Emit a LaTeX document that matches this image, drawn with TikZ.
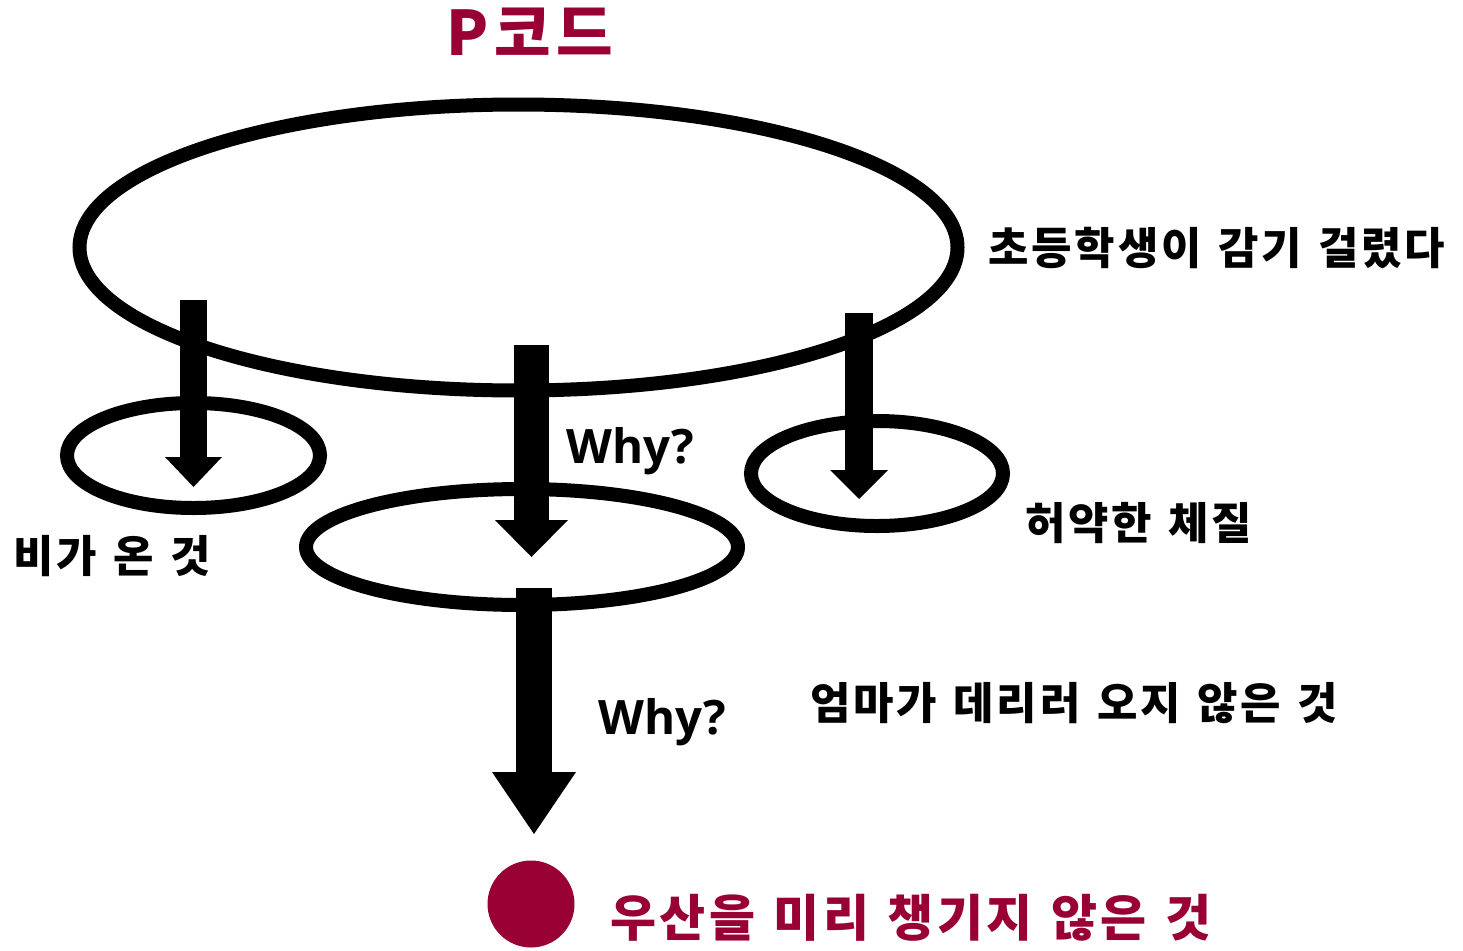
\documentclass[tikz,border=0pt]{standalone}
\usepackage{fontspec}
\usetikzlibrary{shapes.geometric,arrows.meta}
\newfontfamily\kr{Noto Sans CJK KR}[LetterSpace=6.5, WordSpace=1.27]
\newfontfamily\krt{Noto Sans CJK KR}[LetterSpace=9]
\newfontfamily\os{Open Sans}
\definecolor{pred}{HTML}{990033}
\tikzset{
  ring/.style={draw=black, line width=0.28cm, ellipse, inner sep=0pt},
  lbl/.style={anchor=base west, inner sep=0pt, font=\kr\bfseries\fontsize{25pt}{25pt}\selectfont},
  why/.style={anchor=base west, inner sep=0pt, font=\os\bfseries\fontsize{27pt}{27pt}\selectfont},
  blockarrow/.style args={#1/#2/#3}{line width=#1*0.02cm, line cap=butt,
     -{Triangle[width=#2*0.02cm, length=#3*0.02cm, line width=0pt]}}
}
\begin{document}
\begin{tikzpicture}[x=0.02cm, y=-0.02cm]
\useasboundingbox (0,0) rectangle (1463,950);
% ellipses
\node[ring, minimum width=878*0.02cm, minimum height=286*0.02cm] (big) at (518.5,247.5) {};
\node[ring, minimum width=253*0.02cm, minimum height=105*0.02cm] (left) at (193.5,455.5) {};
\node[ring, minimum width=432*0.02cm, minimum height=116*0.02cm] (mid) at (522,547) {};
\node[ring, minimum width=252*0.02cm, minimum height=105*0.02cm] (right) at (877,473.5) {};
\node[circle, fill=pred, minimum size=87*0.02cm, inner sep=0pt] (dot) at (531,904) {};
% arrow end points
\coordinate (a1s) at (193.5,300); \coordinate (a1e) at (193.5,487);
\coordinate (a2s) at (531.5,345); \coordinate (a2e) at (531.5,557);
\coordinate (a3s) at (859,313);   \coordinate (a3e) at (859,499);
\coordinate (a4s) at (534,588);   \coordinate (a4e) at (534,834);
\draw[blockarrow=27/57/30] (a1s) -- (a1e);
\draw[blockarrow=35/73/37] (a2s) -- (a2e);
\draw[blockarrow=28/58/29] (a3s) -- (a3e);
\draw[blockarrow=36/84/62] (a4s) -- (a4e);
% texts
\node[lbl, text=pred, font=\krt\bfseries\fontsize{35pt}{35pt}\selectfont] (title) at (446,55) {P코드};
\node[lbl] (t1) at (988,264) {초등학생이 감기 걸렸다};
\node[lbl] (t2) at (13,572) {비가 온 것};
\node[lbl] (t3) at (1025,539) {허약한 체질};
\node[lbl] (t4) at (810,719) {엄마가 데리러 오지 않은 것};
\node[lbl, text=pred, font=\kr\bfseries\fontsize{28.5pt}{28.5pt}\selectfont] (t5) at (610,936) {우산을 미리 챙기지 않은 것};
\node[why] (w1) at (566,463) {Why?};
\node[why] (w2) at (598,734) {Why?};
\end{tikzpicture}
\end{document}
